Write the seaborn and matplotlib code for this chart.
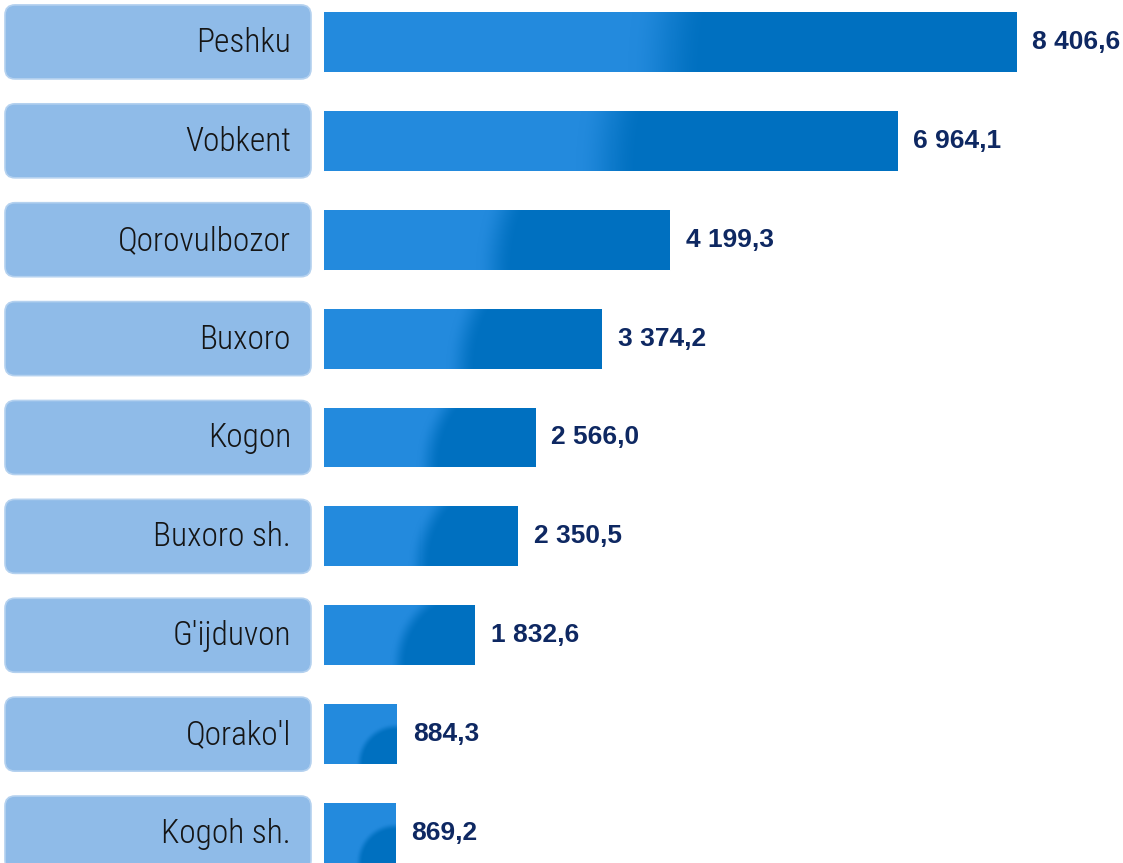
import numpy as np
import matplotlib
matplotlib.use('Agg')
import matplotlib.pyplot as plt
import seaborn as sns
from matplotlib.patches import FancyBboxPatch
from matplotlib.transforms import IdentityTransform
from matplotlib.colors import to_rgb

# Données
districts = ['Peshku', 'Vobkent', 'Qorovulbozor', 'Buxoro', 'Kogon',
             'Buxoro sh.', "G'ijduvon", "Qorako'l", 'Kogoh sh.']
values = [8406.6, 6964.1, 4199.3, 3374.2, 2566.0, 2350.5, 1832.6, 884.3, 869.2]

# Couleurs
light_blue = '#238add'
dark_blue = '#0070c0'
box_color = '#8fbbe8'
value_color = '#0e2862'

sns.set_style('white')
plt.rcParams['font.family'] = ['Liberation Sans', 'DejaVu Sans']

W, H = 1123, 863
fig = plt.figure(figsize=(W / 100, H / 100), dpi=100)
ax = fig.add_axes([0, 0, 1, 1])

sns.barplot(x=values, y=districts, orient='h', color=light_blue,
            saturation=1, width=0.606, ax=ax)

ax.set_xlim(-3936, 9706)
ax.set_ylim(8.303, -0.424)
ax.axis('off')

# Dégradé radial sur chaque barre (foncé vers le coin bas-droit)
c_light = np.array(to_rgb(light_blue))
c_dark = np.array(to_rgb(dark_blue))
fig.canvas.draw()
for bar in ax.patches:
    x0, y0 = bar.get_x(), bar.get_y()
    x1, y1 = x0 + bar.get_width(), y0 + bar.get_height()
    (px0, py_a), (px1, py_b) = ax.transData.transform([(x0, y0), (x1, y1)])
    wpx = max(int(round(px1 - px0)), 2)
    hpx = max(int(round(abs(py_a - py_b))), 2)
    xx = np.arange(wpx)[None, :]
    yy = np.arange(hpx)[:, None]
    d = np.sqrt((wpx - 1 - xx) ** 2 + (hpx - 1 - yy) ** 2)
    t = np.clip((d - 0.45 * wpx) / (0.11 * wpx), 0, 1)
    t = t * t * (3 - 2 * t)
    img = c_dark[None, None, :] * (1 - t[..., None]) + c_light[None, None, :] * t[..., None]
    im = ax.imshow(img, extent=(x0, x1, y1, y0), aspect='auto',
                   interpolation='nearest', zorder=3)
    im.set_clip_path(bar)

# Étiquettes des districts dans des cadres arrondis
for i, name in enumerate(districts):
    yc = ax.transData.transform((0, i))[1]
    box = FancyBboxPatch((5, yc - 37), 306, 74,
                         boxstyle='round,pad=0,rounding_size=10',
                         facecolor=box_color, edgecolor='#b4d1ef', linewidth=1.2,
                         transform=IdentityTransform(), zorder=2)
    fig.patches.append(box)
    fig.text(291, yc - 1, name, transform=IdentityTransform(),
             ha='right', va='center', fontsize=24, color='#151515',
             family=['Roboto Condensed', 'DejaVu Sans'], fontstretch='condensed',
             fontweight='light', zorder=4)

# Valeurs
for i, v in enumerate(values):
    txt = f'{v:,.1f}'.replace(',', ' ').replace('.', ',')
    ax.annotate(txt, (v, i), xytext=(16, 0), textcoords='offset pixels',
                ha='left', va='center', fontsize=19, fontweight='bold',
                color=value_color, zorder=5)

fig.savefig('out.png', dpi=100)
